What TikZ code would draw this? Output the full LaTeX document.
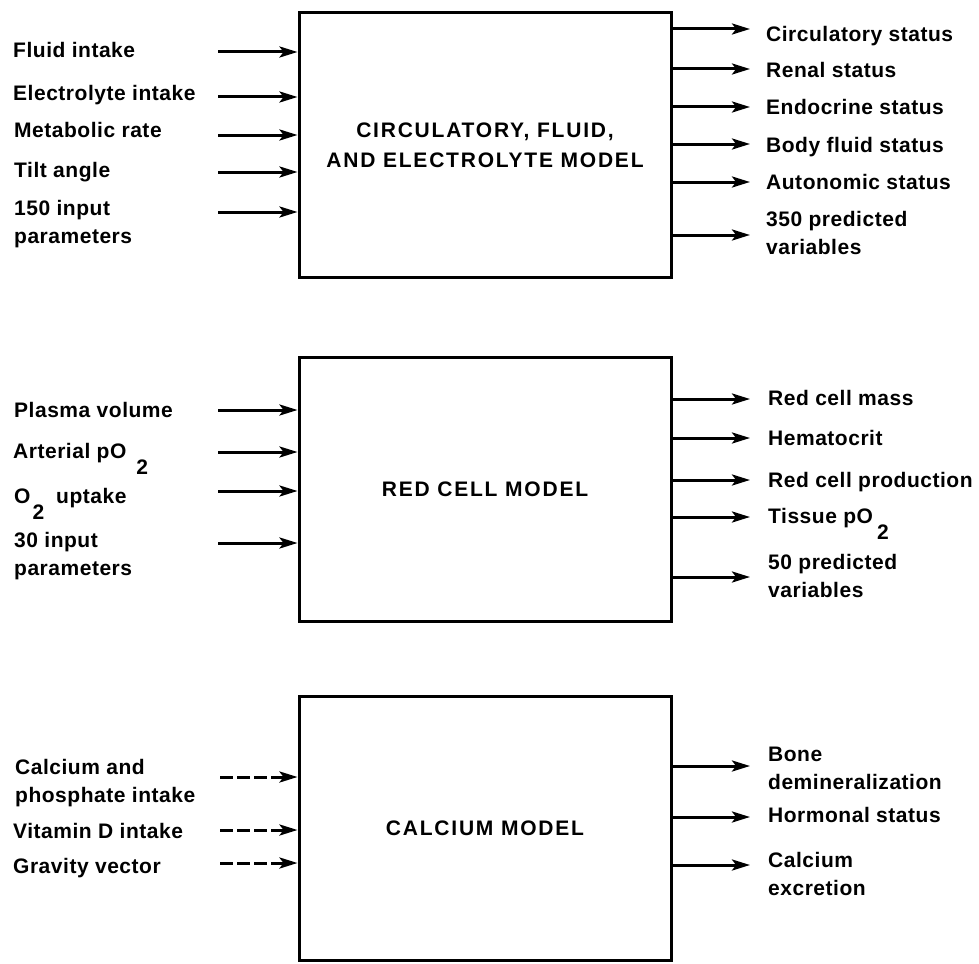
\documentclass[tikz,border=0pt]{standalone}
\usepackage{fontspec}
\setmainfont[LetterSpace=2.5]{Liberation Sans Bold}
\newfontfamily\titlefont[LetterSpace=8.5]{Liberation Sans Bold}
\usetikzlibrary{arrows.meta}
% full-size, lowered "2" used for pO2 and O2
\newcommand\lowtwo[1]{\hspace{#1}\raisebox{-16pt}{2}}
\begin{document}
\begin{tikzpicture}[x=1pt,y=-1pt,
  box/.style={draw, line width=3pt, minimum width=372pt, inner sep=0pt,
    font=\titlefont\fontsize{21pt}{30pt}\selectfont, align=center},
  lbl/.style={inner sep=0pt, anchor=base west, align=left,
    font=\fontsize{21pt}{28pt}\selectfont},
  arr/.style={line width=3pt, -{Stealth[length=18pt,width=11pt,inset=4pt]}},
  darr/.style={arr, dash pattern=on 13pt off 4pt},
]
\useasboundingbox (0,0) rectangle (979,963);

% ---------- model boxes ----------
\node[box, minimum height=264pt] (b1) at (485,145) {CIRCULATORY, FLUID,\\AND ELECTROLYTE MODEL};
\node[box, minimum height=264pt] (b2) at (485,489) {RED CELL MODEL};
\node[box, minimum height=264pt] (b3) at (485,828.5) {CALCIUM MODEL};

% ---------- circulatory model: inputs ----------
% (two-line labels are placed by the baseline of their last line)
\node[lbl] (i11) at (13,58)  {Fluid intake};
\node[lbl] (i12) at (13,101) {Electrolyte intake};
\node[lbl] (i13) at (14,138) {Metabolic rate};
\node[lbl] (i14) at (14,177) {Tilt angle};
\node[lbl] (i15) at (14,243) {150 input\\parameters};
\coordinate (a11) at (218,52);
\coordinate (a12) at (218,97);
\coordinate (a13) at (218,135);
\coordinate (a14) at (218,172);
\coordinate (a15) at (218,212);
\foreach \c in {a11,a12,a13,a14,a15}
  \draw[arr] (\c) -- (\c -| b1.west);

% ---------- circulatory model: outputs ----------
\node[lbl] (o11) at (766,42)  {Circulatory status};
\node[lbl] (o12) at (766,78)  {Renal status};
\node[lbl] (o13) at (766,115) {Endocrine status};
\node[lbl] (o14) at (766,153) {Body fluid status};
\node[lbl] (o15) at (766,189) {Autonomic status};
\node[lbl] (o16) at (766,254) {350 predicted\\variables};
\coordinate (e11) at (750,29);
\coordinate (e12) at (750,69);
\coordinate (e13) at (750,107);
\coordinate (e14) at (750,144);
\coordinate (e15) at (750,182);
\coordinate (e16) at (750,235);
\foreach \c in {e11,e12,e13,e14,e15,e16}
  \draw[arr] (\c -| b1.east) -- (\c);

% ---------- red cell model: inputs ----------
\node[lbl] (i21) at (14,417) {Plasma volume};
\node[lbl] (i22) at (13,458) {Arterial pO\lowtwo{10pt}};
\node[lbl] (i23) at (14,503) {O\lowtwo{2pt}\hspace{12pt}uptake};
\node[lbl] (i24) at (14,575) {30 input\\parameters};
\coordinate (a21) at (218,410);
\coordinate (a22) at (218,452);
\coordinate (a23) at (218,491);
\coordinate (a24) at (218,543);
\foreach \c in {a21,a22,a23,a24}
  \draw[arr] (\c) -- (\c -| b2.west);

% ---------- red cell model: outputs ----------
\node[lbl] (o21) at (768,405) {Red cell mass};
\node[lbl] (o22) at (768,445) {Hematocrit};
\node[lbl] (o23) at (768,487) {Red cell production};
\node[lbl] (o24) at (768,523) {Tissue pO\lowtwo{4pt}};
\node[lbl] (o25) at (768,597) {50 predicted\\variables};
\coordinate (e21) at (750,399);
\coordinate (e22) at (750,438);
\coordinate (e23) at (750,480);
\coordinate (e24) at (750,517);
\coordinate (e25) at (750,577);
\foreach \c in {e21,e22,e23,e24,e25}
  \draw[arr] (\c -| b2.east) -- (\c);

% ---------- calcium model: inputs (dashed) ----------
\node[lbl] (i31) at (15,802) {Calcium and\\phosphate intake};
\node[lbl] (i32) at (13,838) {Vitamin D intake};
\node[lbl] (i33) at (13,873) {Gravity vector};
\coordinate (a31) at (220,777);
\coordinate (a32) at (220,830);
\coordinate (a33) at (220,863);
\foreach \c in {a31,a32,a33}
  \draw[darr] (\c) -- (\c -| b3.west);

% ---------- calcium model: outputs ----------
\node[lbl] (o31) at (768,789) {Bone\\demineralization};
\node[lbl] (o32) at (768,822) {Hormonal status};
\node[lbl] (o33) at (768,895) {Calcium\\excretion};
\coordinate (e31) at (750,766);
\coordinate (e32) at (750,817);
\coordinate (e33) at (750,865);
\foreach \c in {e31,e32,e33}
  \draw[arr] (\c -| b3.east) -- (\c);
\end{tikzpicture}
\end{document}
